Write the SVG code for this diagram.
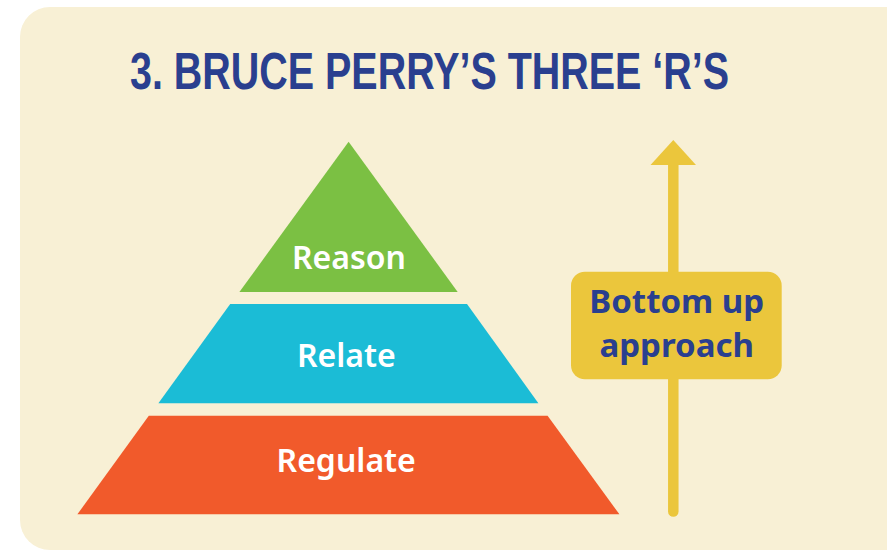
<svg xmlns="http://www.w3.org/2000/svg" width="887" height="552" viewBox="0 0 887 552">
<style>
.lbl{font-family:"Noto Sans","Open Sans",sans-serif;font-weight:600;font-size:32px;fill:#ffffff;text-anchor:middle}
.note{font-family:"Noto Sans","Open Sans",sans-serif;font-weight:700;font-size:33px;fill:#2a3f8f;text-anchor:middle}
.title{font-family:"Liberation Sans",Arial,sans-serif;font-weight:700;font-size:51px;fill:#2a3f8f}
</style>
<rect x="0" y="0" width="887" height="552" fill="#ffffff"/>
<rect id="panel" x="20" y="7" width="900" height="543" rx="30" fill="#f8f0d5"/>
<text class="title" x="130" y="89" textLength="599" lengthAdjust="spacingAndGlyphs">3. BRUCE PERRY’S THREE ‘R’S</text>
<g id="reason">
<polygon points="348.6,141.7 457.7,292 239.4,292" fill="#7bc043"/>
<text class="lbl" x="349" y="268.5">Reason</text>
</g>
<g id="relate">
<polygon points="230.2,304 467,304 538.4,403.3 158.4,403.3" fill="#1bbcd6"/>
<text class="lbl" x="346.3" y="366.5">Relate</text>
</g>
<g id="regulate">
<polygon points="148.8,415.7 547.6,415.7 619.4,514.3 77.4,514.3" fill="#f15a2b"/>
<text class="lbl" x="346.2" y="472">Regulate</text>
</g>
<g id="connectors">
<line x1="673.3" y1="163" x2="673.3" y2="511.5" stroke="#ebc63c" stroke-width="10.5" stroke-linecap="round"/>
<polygon points="673.3,140 696,165 650.5,165" fill="#ebc63c"/>
</g>
<g id="bottom-up">
<rect x="571" y="271.7" width="210.7" height="107.6" rx="14" fill="#ebc63c"/>
<text class="note" x="676.7" y="312.5">Bottom up</text>
<text class="note" x="676.7" y="357">approach</text>
</g>
</svg>
